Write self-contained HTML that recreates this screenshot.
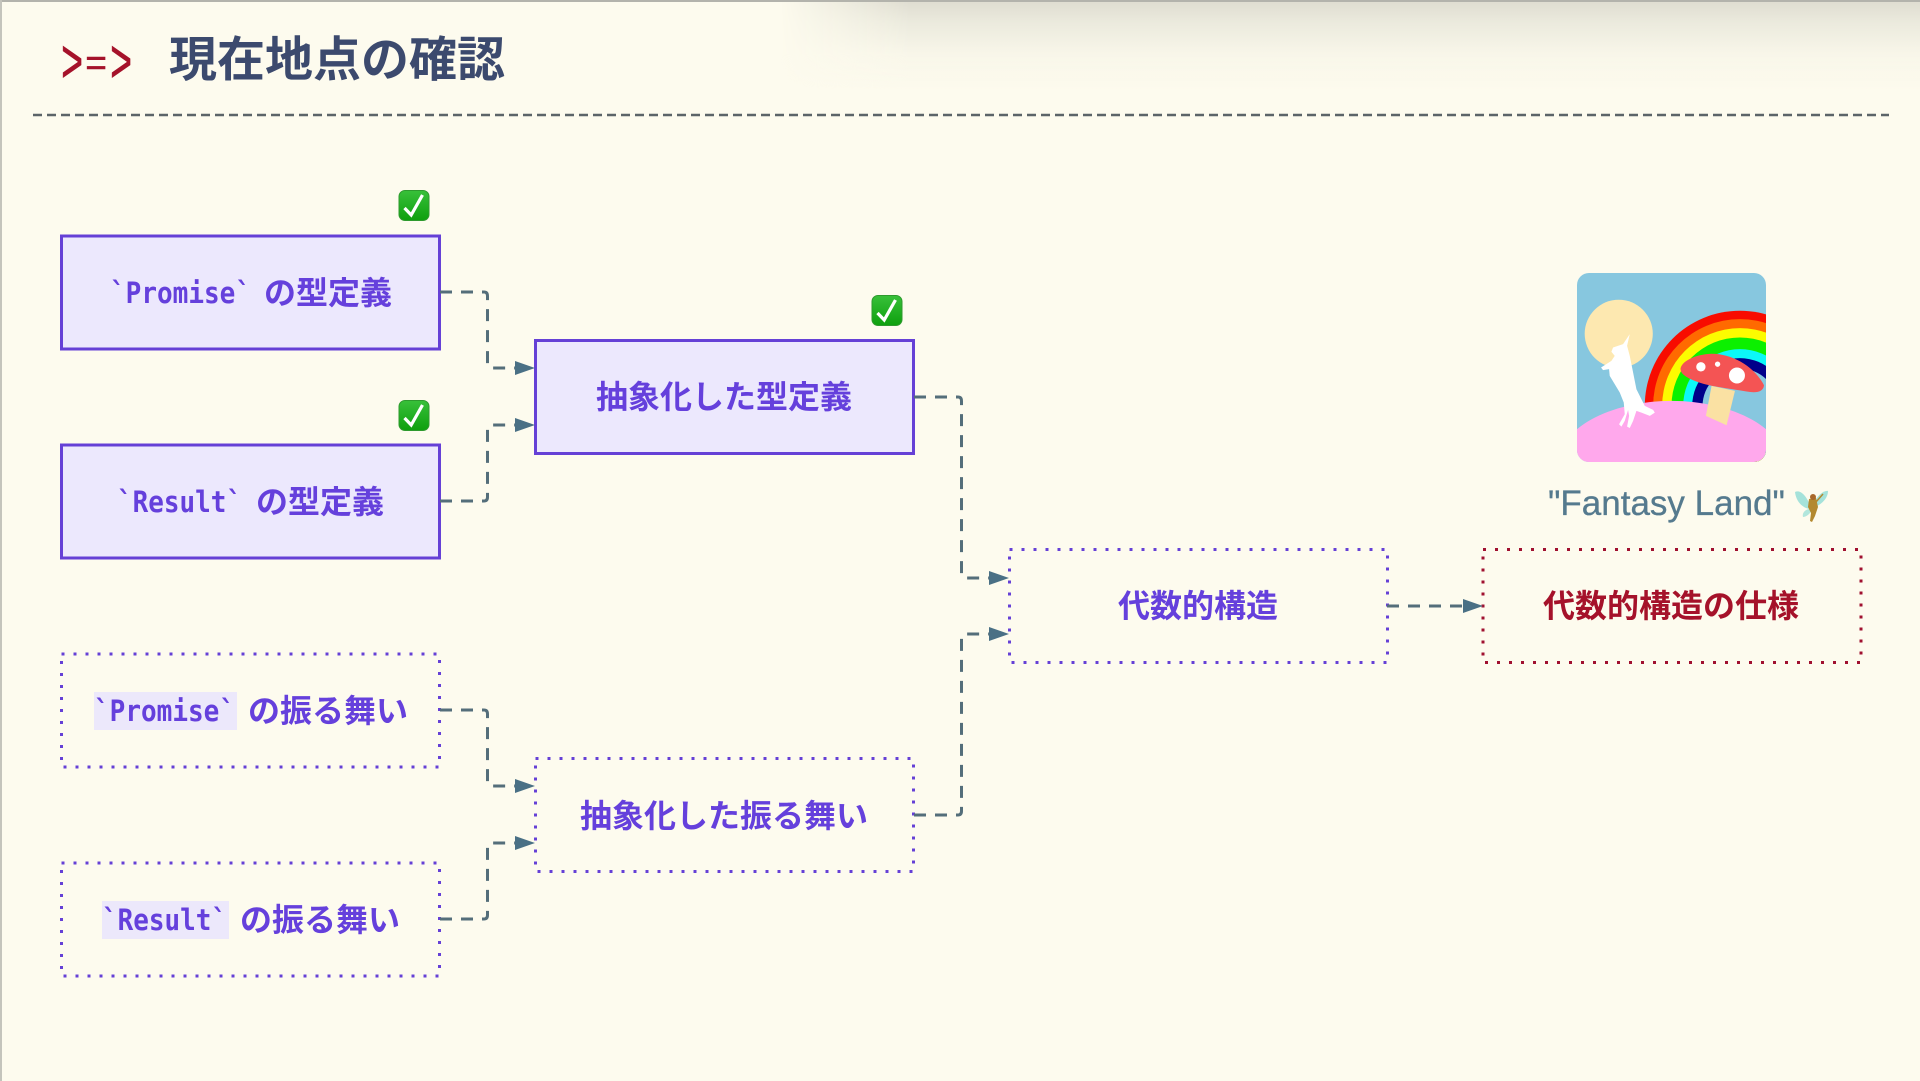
<!DOCTYPE html>
<html lang="ja">
<head>
<meta charset="utf-8">
<title>現在地点の確認</title>
<style>
html,body{margin:0;padding:0;background:#fdfbee;}
body{width:1920px;height:1081px;overflow:hidden;position:relative;}
#shade{position:absolute;left:780px;top:0;width:1140px;height:90px;background:linear-gradient(180deg,#dedcd0 0%,#ebeadd 25%,#f8f6e9 60%,rgba(253,251,238,0) 100%);-webkit-mask-image:linear-gradient(90deg,transparent 0,#000 130px);mask-image:linear-gradient(90deg,transparent 0,#000 130px);}
#topbar{position:absolute;left:0;top:0;width:1920px;height:2px;background:#b3b3ac;}
#leftbar{position:absolute;left:0;top:0;width:1.5px;height:1081px;background:#c4c4bc;}
svg{position:absolute;left:0;top:0;}
.j{font-family:"Liberation Sans","Noto Sans CJK JP",sans-serif;font-weight:700;font-size:32px;fill:#6540dc;}
.m{font-family:"DejaVu Sans Mono","Liberation Mono",monospace;font-weight:700;font-size:29px;fill:#6540dc;}
.box{fill:#ece8fd;stroke:#6540d6;stroke-width:3;}
.dot{fill:none;stroke:#6540d6;stroke-width:3;stroke-dasharray:3 9;}
.dotr{fill:none;stroke:#a01030;stroke-width:3;stroke-dasharray:3 9;}
.e{fill:none;stroke:#546e7a;stroke-width:3;stroke-dasharray:12 9;}
.a{fill:#4a7085;}
.r{font-family:"Liberation Mono",monospace;font-size:37px;fill:#a5122a;stroke:#a5122a;stroke-width:.5px;}
</style>
</head>
<body>
<div id="shade"></div>
<div id="topbar"></div>
<div id="leftbar"></div>
<svg width="1920" height="1081" viewBox="0 0 1920 1081" xmlns="http://www.w3.org/2000/svg">
<defs>
<linearGradient id="cg" x1="0" y1="0" x2="0" y2="1"><stop offset="0" stop-color="#38c03a"/><stop offset="1" stop-color="#0ea00e"/></linearGradient>
<clipPath id="ic"><rect x="22" y="22" width="566" height="566" rx="36"/></clipPath>
<g id="chk">
<rect x="0.5" y="0.5" width="30" height="30" rx="6" fill="url(#cg)" stroke="#2e9a2e" stroke-width="1"/>
<path d="M6 18 L12.7 25 L24 5" fill="none" stroke="#fff" stroke-width="3.2"/>
</g>
</defs>

<!-- title -->
<text class="r" transform="translate(61,82) scale(1,1.65)">&gt;</text>
<text class="r" x="85" y="75">=</text>
<text class="r" transform="translate(110,82) scale(1,1.65)">&gt;</text>
<text x="169" y="76" font-family="'Liberation Sans','Noto Sans CJK JP',sans-serif" font-size="48" font-weight="700" fill="#3c4a6e" textLength="336" lengthAdjust="spacingAndGlyphs">現在地点の確認</text>
<line x1="33" y1="115" x2="1889" y2="115" stroke="#5c6468" stroke-width="2.5" stroke-dasharray="9 5"/>

<!-- checks -->
<use href="#chk" x="398.5" y="190"/>
<use href="#chk" x="871.5" y="295"/>
<use href="#chk" x="398.5" y="400"/>

<!-- solid boxes -->
<rect class="box" x="61.5" y="236" width="378" height="113"/>
<rect class="box" x="61.5" y="445" width="378" height="113"/>
<rect class="box" x="535.5" y="340.5" width="378" height="113"/>

<!-- dotted boxes -->
<rect class="dot" x="61.5" y="654" width="378" height="113"/>
<rect class="dot" x="61.5" y="863" width="378" height="113"/>
<rect class="dot" x="535.5" y="758.5" width="378" height="113"/>
<rect class="dot" x="1009.5" y="549.5" width="378" height="113"/>
<rect class="dotr" x="1483" y="549.5" width="378" height="113"/>

<!-- connectors -->
<path class="e" d="M440 292 H484 Q487.5 292 487.5 296 V364 Q487.5 368 491 368 H516"/>
<path class="e" d="M440 501 H484 Q487.5 501 487.5 497 V429 Q487.5 425 491 425 H516"/>
<path class="e" d="M440 710 H484 Q487.5 710 487.5 714 V782 Q487.5 786 491 786 H516"/>
<path class="e" d="M440 919 H484 Q487.5 919 487.5 915 V847 Q487.5 843 491 843 H516"/>
<path class="e" d="M914 397 H958 Q961.5 397 961.5 401 V574 Q961.5 578 965 578 H990"/>
<path class="e" d="M914 815 H958 Q961.5 815 961.5 811 V638 Q961.5 634 965 634 H990"/>
<path class="e" d="M1387 606 H1465"/>
<polygon class="a" points="515,361 535,368 515,375"/>
<polygon class="a" points="515,418 535,425 515,432"/>
<polygon class="a" points="515,779 535,786 515,793"/>
<polygon class="a" points="515,836 535,843 515,850"/>
<polygon class="a" points="989,571 1009,578 989,585"/>
<polygon class="a" points="989,627 1009,634 989,641"/>
<polygon class="a" points="1463,599 1483,606 1463,613"/>

<!-- labels -->
<text class="m" x="110" y="303" textLength="141" lengthAdjust="spacingAndGlyphs">`Promise`</text>
<text class="j" x="264" y="304" textLength="128" lengthAdjust="spacingAndGlyphs">の型定義</text>
<text class="m" x="117" y="512" textLength="125" lengthAdjust="spacingAndGlyphs">`Result`</text>
<text class="j" x="256" y="513" textLength="128" lengthAdjust="spacingAndGlyphs">の型定義</text>
<text class="j" x="596" y="408" textLength="256" lengthAdjust="spacingAndGlyphs">抽象化した型定義</text>

<rect x="94" y="692" width="143" height="38" fill="#ece8fb"/>
<text class="m" x="94" y="721" textLength="141" lengthAdjust="spacingAndGlyphs">`Promise`</text>
<text class="j" x="248" y="722" textLength="160" lengthAdjust="spacingAndGlyphs">の振る舞い</text>
<rect x="102" y="901" width="127" height="38" fill="#ece8fb"/>
<text class="m" x="102" y="930" textLength="125" lengthAdjust="spacingAndGlyphs">`Result`</text>
<text class="j" x="240" y="931" textLength="160" lengthAdjust="spacingAndGlyphs">の振る舞い</text>
<text class="j" x="580" y="827" textLength="288" lengthAdjust="spacingAndGlyphs">抽象化した振る舞い</text>
<text class="j" x="1118" y="617" textLength="160" lengthAdjust="spacingAndGlyphs">代数的構造</text>
<text class="j" x="1543" y="617" textLength="256" lengthAdjust="spacingAndGlyphs" style="fill:#a5122a">代数的構造の仕様</text>

<!-- Fantasy Land image -->
<svg x="1577" y="273" width="189" height="189" viewBox="22 22 566 566">
<g clip-path="url(#ic)">
<rect x="22" y="22" width="566" height="566" fill="#87c7df"/>
<circle cx="147" cy="204" r="102" fill="#fde8b0"/>
<circle cx="510" cy="420" r="285" fill="#f80c00"/>
<circle cx="510" cy="420" r="260" fill="#ff6a00"/>
<circle cx="510" cy="420" r="233" fill="#fcfc00"/>
<circle cx="510" cy="420" r="205" fill="#0cf000"/>
<circle cx="510" cy="420" r="170" fill="#0cf8f8"/>
<circle cx="510" cy="420" r="143" fill="#00008a"/>
<circle cx="510" cy="420" r="112" fill="#87c7df"/>
<ellipse cx="305" cy="595" rx="340" ry="190" fill="#ffa8ec"/>
<polygon points="425,360 495,375 470,478 408,450" fill="#fae1a3"/>
<path d="M332 308 C338 282 385 265 425 264 C490 264 555 305 582 358 C580 378 560 382 530 377 C470 366 415 362 375 345 C350 335 332 325 332 308 Z" fill="#f45454"/>
<circle cx="393" cy="303" r="14" fill="#fff"/>
<circle cx="443" cy="295" r="8" fill="#fff"/>
<circle cx="501" cy="329" r="24" fill="#fff"/>
<polygon points="180,205 172,240 180,270 188,310 200,370 225,420 250,432 255,440 240,450 215,440 200,435 190,465 180,486 172,482 178,450 175,432 165,465 155,482 148,475 165,445 162,410 150,380 120,330 118,310 100,313 94,305 125,285 135,270 125,258 130,245 160,235" fill="#fff"/>
</g>
</svg>
<text x="1548" y="515" font-family="'Liberation Sans',sans-serif" font-size="35" fill="#557a8e" stroke="#557a8e" stroke-width=".3">"Fantasy Land"</text>
<!-- fairy -->
<g transform="translate(1795,489)">
<path d="M15 16 C10 4 4 1 0 3 C1 12 7 19 15 20 Z" fill="#a5e2da"/>
<path d="M19 14 C23 5 30 1 33 2 C33 9 27 15 20 18 Z" fill="#a5e2da"/>
<path d="M14 20 C9 21 7 25 8 28 C11 28 15 25 16 22 Z" fill="#b2e6dc"/>
<path d="M14 10 L21 9 L23 18 L20 27 L17 33 L15 32 L16 24 L13 18 Z" fill="#b3892f"/>
<circle cx="18" cy="8" r="3" fill="#a9682a"/>
<path d="M21 13 L28 5" stroke="#b3892f" stroke-width="1.5"/>
</g>
</svg>
</body>
</html>
